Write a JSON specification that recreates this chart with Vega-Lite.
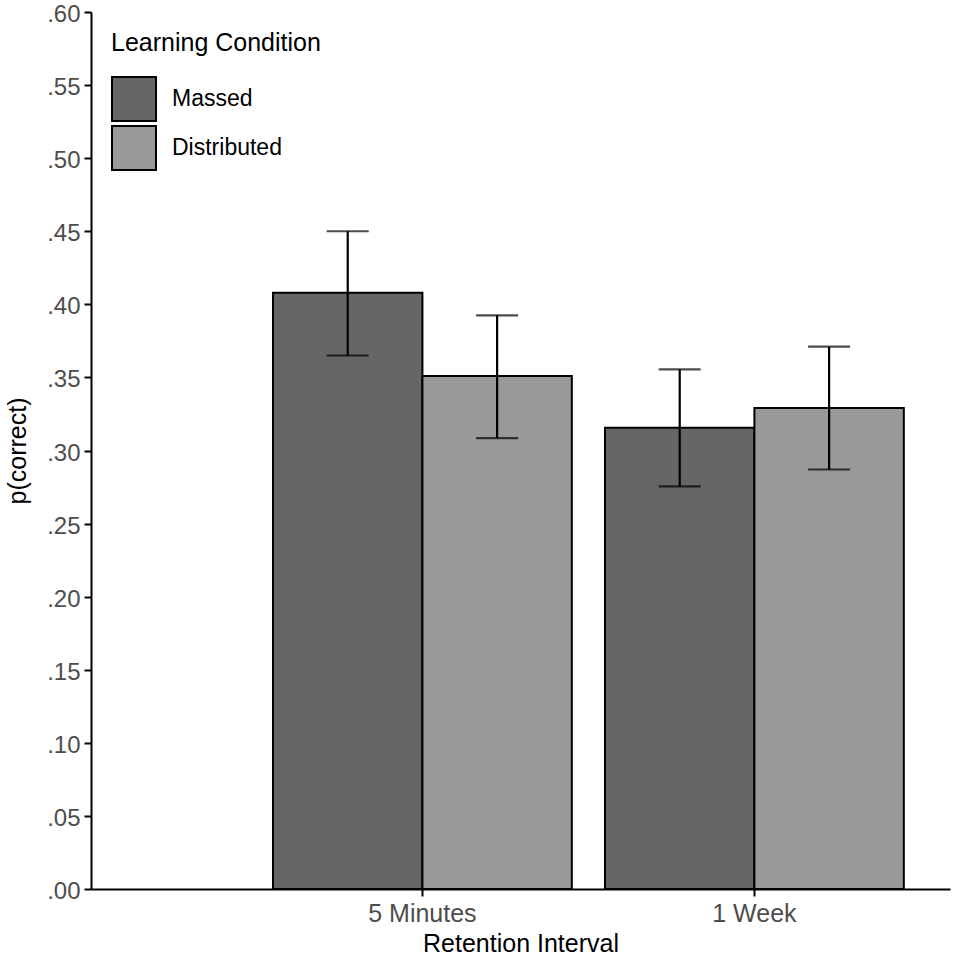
{
  "$schema": "https://vega.github.io/schema/vega-lite/v6.json",
  "autosize": "none",
  "width": 859,
  "height": 877,
  "padding": {"left": 91, "top": 12, "right": 5, "bottom": 71},
  "background": "white",
  "config": {
    "view": {"stroke": null},
    "font": "Liberation Sans",
    "axis": {
      "grid": false,
      "domainColor": "black",
      "domainWidth": 2,
      "tickColor": "black",
      "tickWidth": 2,
      "tickSize": 7,
      "labelColor": "#4d4d4d",
      "labelFontSize": 25,
      "labelFont": "Liberation Sans",
      "titleFont": "Liberation Sans",
      "titleFontSize": 25,
      "titleFontWeight": "normal",
      "titleColor": "black"
    },
    "legend": {
      "titleFont": "Liberation Sans",
      "labelFont": "Liberation Sans"
    }
  },
  "data": {
    "values": [
      {"interval": "5 Minutes", "condition": "Massed", "p": 0.408, "lo": 0.365, "hi": 0.450},
      {"interval": "5 Minutes", "condition": "Distributed", "p": 0.351, "lo": 0.3085, "hi": 0.3925},
      {"interval": "1 Week", "condition": "Massed", "p": 0.3155, "lo": 0.2755, "hi": 0.3555},
      {"interval": "1 Week", "condition": "Distributed", "p": 0.329, "lo": 0.287, "hi": 0.371}
    ]
  },
  "encoding": {
    "x": {
      "field": "interval",
      "type": "nominal",
      "sort": ["5 Minutes", "1 Week"],
      "scale": {"domain": ["5 Minutes", "1 Week"], "paddingInner": 0.1, "paddingOuter": 0.3437, "align": 0.7976, "round": false},
      "axis": {"title": "Retention Interval", "labelAngle": 0, "labelPadding": 5, "titlePadding": 5}
    },
    "xOffset": {
      "field": "condition",
      "type": "nominal",
      "scale": {"domain": ["Massed", "Distributed"], "paddingInner": 0, "paddingOuter": 0}
    }
  },
  "layer": [
    {
      "mark": {"type": "bar", "stroke": "black", "strokeWidth": 2},
      "encoding": {
        "y": {
          "field": "p",
          "type": "quantitative",
          "scale": {"domain": [0, 0.6], "nice": false, "zero": true},
          "axis": {
            "title": "p(correct)",
            "values": [0, 0.05, 0.1, 0.15, 0.2, 0.25, 0.3, 0.35, 0.4, 0.45, 0.5, 0.55, 0.6],
            "labelExpr": "replace(format(datum.value, '.2f'), '0.', '.')",
            "labelFontSize": 24,
            "labelOffset": 2.5,
            "labelPadding": 4,
            "titlePadding": 16
          }
        },
        "fill": {
          "field": "condition",
          "type": "nominal",
          "scale": {"domain": ["Massed", "Distributed"], "range": ["#666666", "#999999"]},
          "legend": {
            "title": "Learning Condition",
            "orient": "none",
            "legendX": 20,
            "legendY": 19,
            "titleFontSize": 25,
            "titleFontWeight": "normal",
            "titleColor": "black",
            "titleLimit": 400,
            "titlePadding": 20,
            "labelFontSize": 23,
            "labelColor": "black",
            "labelOffset": 15,
            "labelLimit": 300,
            "symbolType": "square",
            "symbolSize": 1936,
            "symbolStrokeColor": "black",
            "symbolStrokeWidth": 2,
            "symbolOpacity": 1,
            "rowPadding": -8
          }
        }
      }
    },
    {
      "mark": {"type": "rule", "color": "black", "strokeWidth": 2.2},
      "encoding": {
        "y": {"field": "lo", "type": "quantitative"},
        "y2": {"field": "hi"}
      }
    },
    {
      "mark": {"type": "tick", "color": "black", "thickness": 2.2, "size": 42, "orient": "horizontal"},
      "encoding": {
        "y": {"field": "hi", "type": "quantitative"}
      }
    },
    {
      "mark": {"type": "tick", "color": "black", "thickness": 2.2, "size": 42, "orient": "horizontal"},
      "encoding": {
        "y": {"field": "lo", "type": "quantitative"}
      }
    }
  ]
}
